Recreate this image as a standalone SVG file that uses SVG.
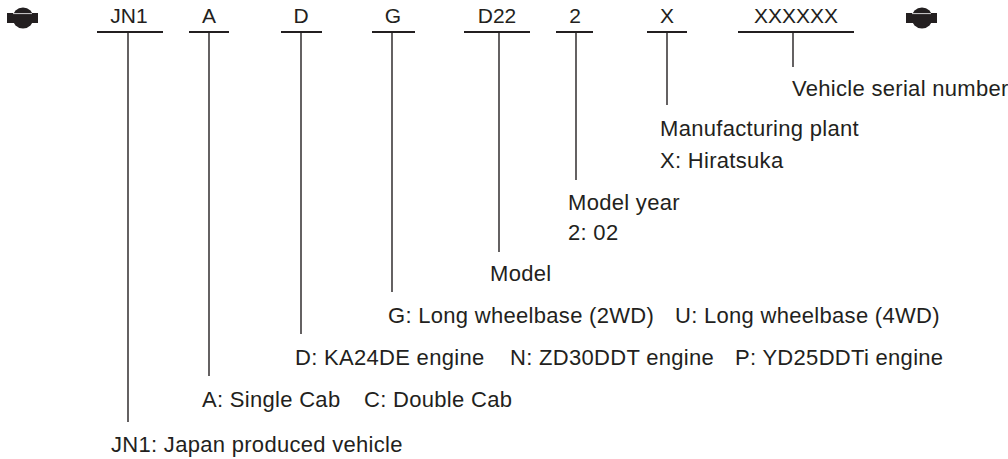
<svg xmlns="http://www.w3.org/2000/svg" width="1008" height="459" viewBox="0 0 1008 459">
<style>
.t{font-family:"Liberation Sans",Arial,sans-serif;fill:#231f20}
.code{font-size:21px;text-anchor:middle}
.lab{font-size:22px;letter-spacing:0.3px}
.ul{stroke:#231f20;stroke-width:2.2;fill:none}
.ld{stroke:#231f20;stroke-width:1.4;fill:none}
</style>
<defs>
<g id="sym">
<circle cx="0" cy="0" r="10.5" fill="#231f20"/>
<rect x="-16" y="-5" width="31" height="10" fill="#231f20"/>
<line x1="-10" y1="-4.4" x2="9" y2="-4.4" stroke="#fff" stroke-width="0.8"/>
</g>
</defs>
<rect width="1008" height="459" fill="#fff"/>
<g id="symbol-left"><use href="#sym" x="23" y="18"/></g>
<g id="symbol-right"><use href="#sym" x="922" y="18"/></g>

<g id="node-jn1"><text class="t code" x="129" y="23">JN1</text><line class="ul" x1="97" y1="32" x2="163" y2="32"/></g>
<g id="node-a"><text class="t code" x="209" y="23">A</text><line class="ul" x1="189" y1="32" x2="229" y2="32"/></g>
<g id="node-d"><text class="t code" x="301" y="23">D</text><line class="ul" x1="281" y1="32" x2="322" y2="32"/></g>
<g id="node-g"><text class="t code" x="393" y="23">G</text><line class="ul" x1="372" y1="32" x2="415" y2="32"/></g>
<g id="node-d22"><text class="t code" x="497" y="23">D22</text><line class="ul" x1="464" y1="32" x2="530" y2="32"/></g>
<g id="node-2"><text class="t code" x="575" y="23">2</text><line class="ul" x1="556" y1="32" x2="593" y2="32"/></g>
<g id="node-x"><text class="t code" x="667" y="23">X</text><line class="ul" x1="647" y1="32" x2="687" y2="32"/></g>
<g id="node-serial"><text class="t code" x="796" y="23">XXXXXX</text><line class="ul" x1="738" y1="32" x2="854" y2="32"/></g>

<g id="connectors">
<line class="ld" x1="128" y1="32" x2="128" y2="422"/>
<line class="ld" x1="209" y1="32" x2="209" y2="376"/>
<line class="ld" x1="301" y1="32" x2="301" y2="334"/>
<line class="ld" x1="392" y1="32" x2="392" y2="292"/>
<line class="ld" x1="499" y1="32" x2="499" y2="252"/>
<line class="ld" x1="576" y1="32" x2="576" y2="180"/>
<line class="ld" x1="667" y1="32" x2="667" y2="105"/>
<line class="ld" x1="793" y1="32" x2="793" y2="67"/>
</g>

<g id="label-serial"><text class="t lab" x="792" y="96">Vehicle serial number</text></g>
<g id="label-plant"><text class="t lab" x="660" y="136">Manufacturing plant</text><text class="t lab" x="660" y="168">X: Hiratsuka</text></g>
<g id="label-year"><text class="t lab" x="568" y="210">Model year</text><text class="t lab" x="568" y="240">2: 02</text></g>
<g id="label-model"><text class="t lab" x="490" y="281">Model</text></g>
<g id="label-wheelbase"><text class="t lab" x="388" y="323">G: Long wheelbase (2WD)</text><text class="t lab" x="675" y="323">U: Long wheelbase (4WD)</text></g>
<g id="label-engine"><text class="t lab" x="295" y="365">D: KA24DE engine</text><text class="t lab" x="510" y="365">N: ZD30DDT engine</text><text class="t lab" x="735" y="365">P: YD25DDTi engine</text></g>
<g id="label-cab"><text class="t lab" x="202" y="407">A: Single Cab</text><text class="t lab" x="364" y="407">C: Double Cab</text></g>
<g id="label-jn1"><text class="t lab" x="111" y="452">JN1: Japan produced vehicle</text></g>
</svg>
